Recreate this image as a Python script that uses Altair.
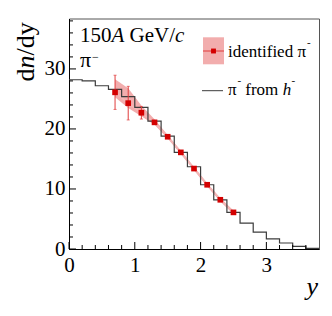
import altair as alt
import pandas as pd

# ---------------- data ----------------
# histogram "pi- from h-" (bin lower edges, bin width 0.2)
hist_edges = [0.0, 0.2, 0.4, 0.6, 0.8, 1.0, 1.2, 1.4, 1.6, 1.8, 2.0, 2.2, 2.4,
              2.6, 2.8, 3.0, 3.2, 3.4, 3.6, 3.8]
hist_vals = [28.2, 28.0, 27.2, 26.6, 25.4, 23.6, 21.3, 18.8, 16.1, 13.7, 10.7,
             8.2, 6.1, 4.3, 2.8, 1.7, 1.0, 0.45, 0.12, 0.12]

# identified pi-
pts_y = [0.7, 0.9, 1.1, 1.3, 1.5, 1.7, 1.9, 2.1, 2.3, 2.5]
pts_v = [26.1, 24.3, 22.7, 21.1, 18.7, 16.1, 13.4, 10.7, 8.2, 6.1]
pts_err = [2.85, 2.8, 1.05, 0.3, 0.3, 0.3, 0.3, 0.3, 0.3, 0.3]
band_hi = [28.3, 26.8, 23.9, 21.6, 19.0, 16.4, 13.7, 11.0, 8.5, 6.4]
band_lo = [25.3, 23.5, 22.1, 20.7, 18.4, 15.8, 13.1, 10.4, 7.9, 5.8]

x_major = [0, 1, 2, 3]
x_minor = [0.2, 0.4, 0.6, 0.8, 1.2, 1.4, 1.6, 1.8, 2.2, 2.4, 2.6, 2.8, 3.2, 3.4, 3.6]
y_major = [0, 10, 20, 30]
y_minor = [2, 4, 6, 8, 12, 14, 16, 18, 22, 24, 26, 28, 32, 34, 36, 38]

legend_labels = ["identified π", "π", "from", "h"]
energy_text = ["150", "A", "GeV/", "c"]
particle_text = ["π", "−"]
ytitle_text = ["d", "n", "/dy"]
xtitle_text = ["y"]

W, H = 250, 230.5
FONT = "Liberation Serif"
RED = "#d40000"
PINK = "#f2adad"

hist_df = pd.DataFrame({"y": hist_edges, "v": hist_vals})
pts_df = pd.DataFrame({"y": pts_y, "v": pts_v,
                       "lo": [v - e for v, e in zip(pts_v, pts_err)],
                       "hi": [v + e for v, e in zip(pts_v, pts_err)],
                       "bl": band_lo, "bh": band_hi})

xs = alt.Scale(domain=[0, 3.8], nice=False, zero=False)
ys = alt.Scale(domain=[0, 38.4], nice=False, zero=False)

xax = alt.Axis(values=x_major, format="d", title=None, grid=False, ticks=False, tickSize=0,
               labelFont=FONT, labelFontSize=21, labelColor="black", labelFlush=False,
               labelBaseline="alphabetic", labelPadding=22, domainColor="black",
               labelOverlap=False)
yax = alt.Axis(values=y_major, format="d", title=None, grid=False, ticks=False, tickSize=0,
               labelFont=FONT, labelFontSize=21, labelColor="black",
               labelPadding=4, domainColor="black", labelOverlap=False)

X = alt.X("y:Q", scale=xs, axis=xax)
Y = alt.Y("v:Q", scale=ys, axis=yax)

band = alt.Chart(pts_df).mark_area(color=PINK, opacity=1).encode(
    x=alt.X("y:Q", scale=xs), y=alt.Y("bl:Q", scale=ys), y2="bh:Q")
pink_line = alt.Chart(pts_df).mark_line(color="#f4b8b8", strokeWidth=1.5).encode(
    x=alt.X("y:Q", scale=xs), y=alt.Y("v:Q", scale=ys))
hist = alt.Chart(hist_df).mark_line(interpolate="step-after", color="#3c3c3c",
                                    strokeWidth=1.2).encode(x=X, y=Y)
ebar = alt.Chart(pts_df).mark_rule(color="#e03c3c", strokeWidth=1).encode(
    x=alt.X("y:Q", scale=xs), y=alt.Y("lo:Q", scale=ys), y2="hi:Q")
cap_lo = alt.Chart(pts_df).mark_tick(color="#e03c3c", orient="horizontal", size=3,
                                     thickness=1).encode(
    x=alt.X("y:Q", scale=xs), y=alt.Y("lo:Q", scale=ys))
cap_hi = alt.Chart(pts_df).mark_tick(color="#e03c3c", orient="horizontal", size=3,
                                     thickness=1).encode(
    x=alt.X("y:Q", scale=xs), y=alt.Y("hi:Q", scale=ys))
squares = alt.Chart(pts_df).mark_square(color=RED, size=32, opacity=1).encode(
    x=alt.X("y:Q", scale=xs), y=alt.Y("v:Q", scale=ys))

# inward ticks
def xticks(vals, length):
    return alt.Chart(pd.DataFrame({"t": vals})).mark_rule(color="black", strokeWidth=1).encode(
        x=alt.X("t:Q", scale=xs), y=alt.value(H), y2=alt.value(H - length))

def yticks(vals, length):
    return alt.Chart(pd.DataFrame({"t": vals})).mark_rule(color="black", strokeWidth=1).encode(
        y=alt.Y("t:Q", scale=ys), x=alt.value(0), x2=alt.value(length))

def txt(s, x, y, size, italic=False, angle=0, align="left"):
    kw = dict(font=FONT, fontSize=size, align=align, baseline="alphabetic", color="black")
    if italic:
        kw["fontStyle"] = "italic"
    if angle:
        kw["angle"] = angle
    return alt.Chart(pd.DataFrame({"s": [s]})).mark_text(**kw).encode(
        text="s:N", x=alt.value(x), y=alt.value(y))

# legend
leg_box = alt.Chart(pd.DataFrame({"k": [0]})).mark_rect(color=PINK).encode(
    x=alt.value(134), x2=alt.value(155), y=alt.value(18.8), y2=alt.value(45.8))
leg_red = alt.Chart(pd.DataFrame({"k": [0]})).mark_rule(color="#e03c3c", strokeWidth=1).encode(
    x=alt.value(134), x2=alt.value(155), y=alt.value(32.5))
leg_sq = alt.Chart(pd.DataFrame({"k": [0]})).mark_square(color=RED, size=24, opacity=1).encode(
    x=alt.value(144.5), y=alt.value(32.5))
leg_blk = alt.Chart(pd.DataFrame({"k": [0]})).mark_rule(color="#3c3c3c", strokeWidth=1).encode(
    x=alt.value(133), x2=alt.value(154), y=alt.value(72.2))

texts = [
    txt(legend_labels[0], 159, 38.2, 17),
    txt("-", 238, 27.7, 11),
    txt(legend_labels[1], 159, 76.5, 17),
    txt("-", 168.5, 65.1, 11),
    txt(legend_labels[2], 176.3, 76.5, 17),
    txt(legend_labels[3], 213.7, 76.5, 17, True),
    txt("-", 222.5, 65.1, 11),
    # energy label
    txt(energy_text[0], 11, 23.5, 21),
    txt(energy_text[1], 42.5, 23.5, 21, True),
    txt(energy_text[2], 60.5, 23.5, 21),
    txt(energy_text[3], 106, 23.5, 21, True),
    # particle label
    txt(particle_text[0], 11, 48.5, 22),
    txt(particle_text[1], 23, 42, 12),
    # y title (rotated)
    txt(ytitle_text[0], -35.5, 63, 26, angle=270),
    txt(ytitle_text[1], -35.5, 50, 26, True, angle=270),
    txt(ytitle_text[2], -35.5, 37, 26, angle=270),
    # x title
    txt(xtitle_text[0], 249, 276.5, 26, True, align="right"),
]

chart = alt.layer(
    band, pink_line, hist, ebar, cap_lo, cap_hi, squares,
    xticks(x_major, 7), xticks(x_minor, 4), yticks(y_major, 7), yticks(y_minor, 4),
    leg_box, leg_red, leg_sq, leg_blk, *texts
).properties(
    width=W, height=H,
    padding={"left": 61, "top": 10.5, "right": 5, "bottom": 58},
    autosize=alt.AutoSizeParams(type="none"),
).configure_view(stroke="#555555", strokeWidth=1)

chart.save("out.html", embed_options={"renderer": "svg", "actions": False})
